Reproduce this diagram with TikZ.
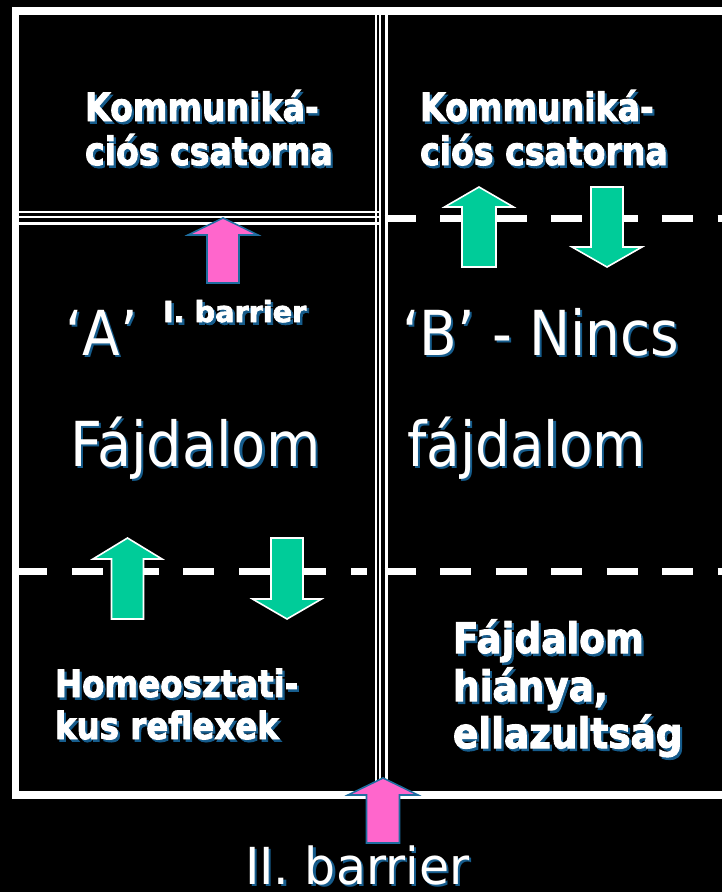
\documentclass[tikz,border=0pt]{standalone}
\usepackage{fontspec}
\newfontfamily\tahR{DejaVu Sans}
\newfontfamily\tahB[BoldFeatures={FakeBold=2.5}]{DejaVu Sans}
\definecolor{shad}{RGB}{22,92,140}
\definecolor{grn}{RGB}{0,204,153}
\definecolor{pnk}{RGB}{255,102,204}
\definecolor{pnkedge}{RGB}{30,110,160}
\newcommand\shd[1]{\rlap{\kern2.5pt\raisebox{-2.5pt}{\textcolor{shad}{#1}}}#1}
\newcommand\sx[2]{\scalebox{#1}[1]{\shd{#2}}}
% block arrow: tip x, tip y, head half width, head base y, shaft half width, end y, style
\newcommand\blkarr[7]{\draw[#7] (#1,#2) -- ({#1+#3},#4) -- ({#1+#5},#4) -- ({#1+#5},#6) -- ({#1-#5},#6) -- ({#1-#5},#4) -- ({#1-#3},#4) -- cycle;}
\tikzset{
  bord/.style={white, line width=7.5pt, line join=miter},
  thinl/.style={white, line width=2.3pt},
  dashl/.style={white, line width=7pt},
  txtbase/.style={text=white, inner sep=0pt, outer sep=0pt, anchor=base west},
  bkom/.style={txtbase, font=\tahB\bfseries\fontsize{39}{47}\selectfont},
  bhom/.style={txtbase, font=\tahB\bfseries\fontsize{37.5}{45}\selectfont},
  bfaj/.style={txtbase, font=\tahB\bfseries\fontsize{42}{50}\selectfont},
  bsmall/.style={txtbase, font=\tahB\bfseries\fontsize{29}{35}\selectfont},
  rtxt/.style={txtbase, font=\tahR\fontsize{62}{74}\selectfont},
  rmid/.style={txtbase, font=\tahR\fontsize{51}{61}\selectfont},
  garrow/.style={fill=grn, draw=white, line width=1.6pt, line join=miter},
  parrow/.style={fill=pnk, draw=pnkedge, line width=1.6pt, line join=miter},
}
\begin{document}
\begin{tikzpicture}[x=1pt,y=-1pt]
\useasboundingbox (0,0) rectangle (722,892);
\clip (0,0) rectangle (722,892);
\fill[black] (0,0) rectangle (722,892);
% outer frame
\draw[bord] (740,11) -- (15.5,11) -- (15.5,795) -- (740,795);
% vertical triple line
\draw[thinl] (376.3,11) -- (376.3,795);
\draw[white, line width=1.8pt] (380,11) -- (380,795);
\draw[white, line width=2.7pt] (386.8,11) -- (386.8,795);
% horizontal triple line (left upper)
\draw[thinl] (19,212.3) -- (381,212.3);
\draw[thinl] (19,217.2) -- (381,217.2);
\draw[thinl] (19,223.6) -- (381,223.6);
% dashed lines
\draw[dashl, dash pattern=on 31pt off 24.5pt] (384.5,218.5) -- (740,218.5);
\draw[dashl, dash pattern=on 31pt off 24.8pt] (16,571) -- (367,571);
\draw[dashl, dash pattern=on 31pt off 24.5pt] (384.5,571) -- (740,571);
% texts
\node[bkom] (k1a) at (85,121) {\sx{0.85}{Kommuniká-}};
\node[bkom] (k1b) at (85,165) {\sx{0.85}{ciós csatorna}};
\node[bkom] (k2a) at (420,121) {\sx{0.85}{Kommuniká-}};
\node[bkom] (k2b) at (420,165) {\sx{0.85}{ciós csatorna}};
\node[rtxt] (qa) at (65,355) {\sx{0.886}{‘A’}};
\node[bsmall] (ib) at (163,322) {\sx{0.99}{I. barrier}};
\node[rtxt] (fa) at (70,466) {\sx{0.9}{Fájdalom}};
\node[rtxt] (qb) at (402,355) {\sx{0.886}{‘B’ - Nincs}};
\node[rtxt] (fb) at (407,466) {\sx{0.886}{fájdalom}};
\node[bhom] (h1) at (55,697) {\sx{0.865}{Homeosztati-}};
\node[bhom] (h2) at (55,739) {\sx{0.865}{kus reflexek}};
\node[bfaj] (f1) at (453,653) {\sx{0.89}{Fájdalom}};
\node[bfaj] (f2) at (453,701) {\sx{0.89}{hiánya,}};
\node[bfaj] (f3) at (453,748) {\sx{0.89}{ellazultság}};
\node[rmid] (iib) at (245,884) {\sx{0.96}{II. barrier}};
% arrows
\blkarr{223}{218}{35}{235}{16}{283}{parrow}
\blkarr{383}{778}{35}{795}{16.5}{843}{parrow}
\blkarr{479}{187}{34.5}{207}{17}{267}{garrow}
\blkarr{607}{267}{35}{247}{16}{187}{garrow}
\blkarr{127.5}{538}{34.5}{559}{16}{619}{garrow}
\blkarr{287}{619}{34.5}{599}{16}{538}{garrow}
\end{tikzpicture}
\end{document}
